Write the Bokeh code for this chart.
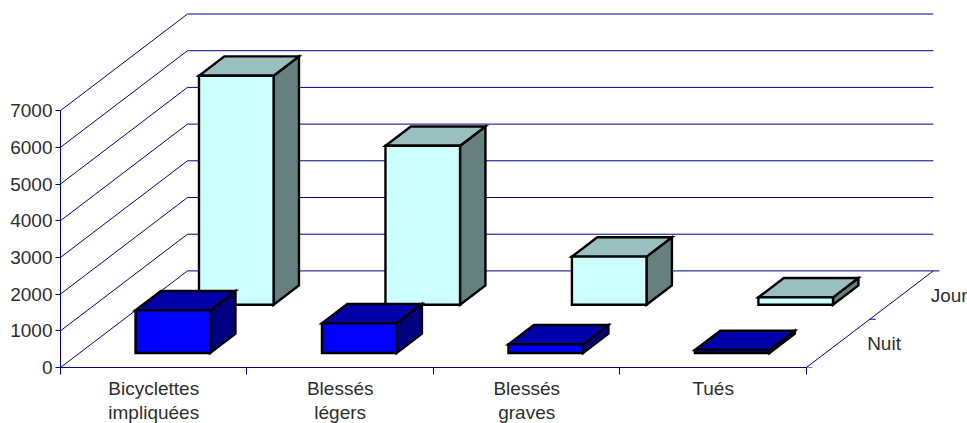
from bokeh.embed import file_html
from bokeh.core.properties import value
from bokeh.models import ColumnDataSource, FixedTicker, Range1d
from bokeh.plotting import figure
from bokeh.resources import INLINE

# Accident counts by severity, split between day and night
categories = [("Bicyclettes", "impliquées"), ("Blessés", "légers"), ("Blessés", "graves"), ("Tués", "")]
jour = [6240, 4330, 1310, 200]
nuit = [1165, 810, 235, 80]
series_names = ["Nuit", "Jour"]
value_ticks = [0, 1000, 2000, 3000, 4000, 5000, 6000, 7000]

# Oblique projection: one depth step moves right along the category axis and up the value axis
DEPTH_X = 0.3405
DEPTH_Y = 1316
BAR_LO, BAR_HI = 0.3, 0.7

FONT = "Liberation Sans"
TEXT = "#2e2e2e"
AXIS = "#000080"
FONT_SIZE = "19px"

JOUR_COLORS = dict(front="#CCFFFF", side="#667F7F", top="#99BFBF")
NUIT_COLORS = dict(front="#0000FF", side="#000080", top="#0000AA")


def project(cat, val, depth):
    return cat + depth * DEPTH_X, val + depth * DEPTH_Y


def polygon(corners):
    pts = [project(*c) for c in corners]
    return [p[0] for p in pts], [p[1] for p in pts]


p = figure(width=967, height=423, output_backend="svg", toolbar_location=None,
           x_range=Range1d(0, 4.864), y_range=Range1d(0, 10000),
           min_border_left=60, min_border_right=0, min_border_top=0, min_border_bottom=56,
           background_fill_color="white", border_fill_color="white")
p.outline_line_color = None
p.grid.visible = False

# Value axis at the front-left corner
ya = p.yaxis[0]
ya.ticker = FixedTicker(ticks=value_ticks)
ya.bounds = (0, max(value_ticks))
ya.axis_line_color = AXIS
ya.major_tick_line_color = AXIS
ya.major_tick_out = 5
ya.major_tick_in = 0
ya.minor_tick_line_color = None
ya.major_label_text_font = FONT
ya.major_label_text_font_size = FONT_SIZE
ya.major_label_text_color = TEXT
ya.major_label_standoff = 3

# Category axis: ticks on the slot boundaries, labels placed separately below
n = len(categories)
xa = p.xaxis[0]
xa.ticker = FixedTicker(ticks=list(range(n + 1)))
xa.bounds = (0, n)
xa.axis_line_color = AXIS
xa.major_tick_line_color = AXIS
xa.major_tick_out = 7
xa.major_tick_in = 0
xa.minor_tick_line_color = None
xa.major_label_text_font_size = "0px"
xa.major_label_text_color = None

# Wall gridlines: a diagonal on the left wall and a horizontal on the back wall per tick
wall_x, wall_y = [], []
for v in value_ticks:
    x0, y0 = project(0, v, 0)
    x1, y1 = project(0, v, 2)
    x2, y2 = project(n, v, 2)
    wall_x.append([x0, x1, x2])
    wall_y.append([y0, y1, y2])
p.multi_line(wall_x, wall_y, line_color=AXIS, line_width=1)

# Depth axis along the right edge of the floor, with short ticks between series
dx0, dy0 = project(n, 0, 0)
dx1, dy1 = project(n, 0, 2)
p.line([dx0, dx1], [dy0, dy1], line_color=AXIS, line_width=1)
tick_len = 0.032
for d in [0, 1, 2]:
    tx, ty = project(n, 0, d)
    p.line([tx, tx + tick_len], [ty, ty], line_color=AXIS, line_width=1)


def draw_bars(values, depth, colors):
    z0, z1 = depth + BAR_LO, depth + BAR_HI
    for i, v in enumerate(values):
        l, r = i + BAR_LO, i + BAR_HI
        faces = [
            ("side", [(r, 0, z0), (r, 0, z1), (r, v, z1), (r, v, z0)]),
            ("top", [(l, v, z0), (r, v, z0), (r, v, z1), (l, v, z1)]),
            ("front", [(l, 0, z0), (r, 0, z0), (r, v, z0), (l, v, z0)]),
        ]
        for face, corners in faces:
            xs, ys = polygon(corners)
            p.patch(xs, ys, fill_color=colors[face], line_color="black", line_width=2.4,
                    line_join="miter")


# Back row first so the front row overlaps it
draw_bars(jour, 1, JOUR_COLORS)
draw_bars(nuit, 0, NUIT_COLORS)

# Two-line category labels under the slots
first = ColumnDataSource(dict(x=[i + 0.5 for i in range(n)], y=[0] * n, t=[c[0] for c in categories]))
second = ColumnDataSource(dict(x=[i + 0.5 for i in range(n)], y=[0] * n, t=[c[1] for c in categories]))
for src, off in ((first, 21), (second, 45)):
    p.text("x", "y", text="t", source=src, level="annotation", y_offset=off, text_align="center",
           text_baseline="middle", text_font=value(FONT), text_font_size=FONT_SIZE, text_color=TEXT)

# Series names beside the depth axis
sx, sy = [], []
for d, _ in enumerate(series_names):
    tx, ty = project(n, 0, d + 0.5)
    sx.append(tx)
    sy.append(ty)
p.text(sx, sy, text=series_names, x_offset=29, text_align="left", text_baseline="middle",
       text_font=value(FONT), text_font_size=FONT_SIZE, text_color=TEXT)

open("out.html", "w").write(file_html(p, INLINE))
